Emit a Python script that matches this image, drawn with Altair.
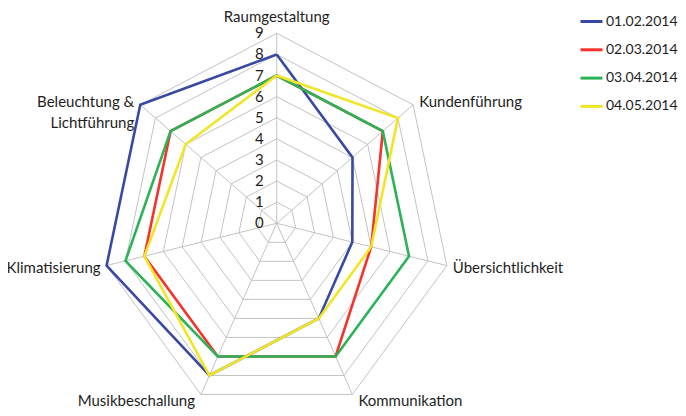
import math
import altair as alt
import pandas as pd

# ---- data ----
categories = ["Raumgestaltung", "Kundenführung", "Übersichtlichkeit", "Kommunikation",
              "Musikbeschallung", "Klimatisierung", "Beleuchtung & Lichtführung"]
series_names = ["01.02.2014", "02.03.2014", "03.04.2014", "04.05.2014"]
s_0102 = [8, 5, 4, 5, 8, 9, 9]
s_0203 = [7, 7, 5, 7, 7, 7, 7]
s_0304 = [7, 7, 7, 7, 7, 8, 7]
s_0405 = [7, 8, 5, 5, 8, 7, 6]
tick_levels = [0, 1, 2, 3, 4, 5, 6, 7, 8, 9]
colors = ["#3949A3", "#F8312B", "#2CB257", "#F1E527"]

N = len(categories)
RMAX = 9
FONT = "Lato"
FS = 15
TXT = "#1E1E1E"

# ---- tables ----
rows = []
for name, vals in zip(series_names, [s_0102, s_0203, s_0304, s_0405]):
    for i in range(N + 1):
        rows.append({"series": name, "idx": i, "value": vals[i % N]})
series_df = pd.DataFrame(rows)

grid_rows = []
for lv in tick_levels[1:]:
    for i in range(N + 1):
        grid_rows.append({"level": lv, "idx": i})
grid_df = pd.DataFrame(grid_rows)

cat_df = pd.DataFrame({"idx": list(range(N)), "cat": categories,
                       "label": [c.replace("& ", "&\n") for c in categories]})
tick_df = pd.DataFrame({"level": tick_levels, "label": [str(t) for t in tick_levels]})

# ---- scales: center at plot (268.7, 215.3) ----
CX, CY = 268.7, 215.3
RX, RY = 174.5, 190.0
xs = alt.Scale(domain=[-RMAX, RMAX], range=[CX - RX, CX + RX])
ys = alt.Scale(domain=[-RMAX, RMAX], range=[CY + RY, CY - RY])
ANG = f"2*PI/{N}"

def X(field="x"):
    return alt.X(f"{field}:Q", scale=xs, axis=None)

def Y(field="y"):
    return alt.Y(f"{field}:Q", scale=ys, axis=None)

grid_color = "#C3C3C3"

rings = alt.Chart(grid_df).transform_calculate(
    x=f"datum.level*sin(datum.idx*{ANG})", y=f"datum.level*cos(datum.idx*{ANG})"
).mark_line(color=grid_color, strokeWidth=1).encode(
    x=X(), y=Y(), detail="level:N", order="idx:Q")

spokes = alt.Chart(cat_df).transform_calculate(
    x0="0", y0="0",
    x=f"{RMAX}*sin(datum.idx*{ANG})", y=f"{RMAX}*cos(datum.idx*{ANG})"
).mark_rule(color=grid_color, strokeWidth=1).encode(
    x=X("x0"), y=Y("y0"), x2="x:Q", y2="y:Q")

ticks = alt.Chart(tick_df).transform_calculate(x0="0").mark_text(
    align="right", baseline="middle", dx=-13, font=FONT, fontSize=FS, color=TXT
).encode(x=X("x0"), y=Y("level"), text="label:N")

lines = alt.Chart(series_df).transform_calculate(
    x=f"datum.value*sin(datum.idx*{ANG})", y=f"datum.value*cos(datum.idx*{ANG})"
).mark_line(strokeWidth=2.6, strokeJoin="miter").encode(
    x=X(), y=Y(), order="idx:Q",
    color=alt.Color("series:N", sort=series_names,
                    scale=alt.Scale(domain=series_names, range=colors),
                    legend=alt.Legend(orient="none", legendX=571, legendY=1, title=None,
                                      symbolType="stroke", symbolStrokeWidth=3,
                                      symbolSize=484, labelFontSize=14, labelFont=FONT,
                                      labelColor=TXT, labelOffset=2, rowPadding=8.3,
                                      labelLimit=0, padding=0)))

label_layers = []
for i in range(N):
    a = 2 * math.pi * i / N
    s, c = math.sin(a), math.cos(a)
    if abs(s) < 1e-6:
        align, dx = "center", 0
    elif s > 0:
        align, dx = "left", 6
    else:
        align, dx = "right", -6
    if c > 0.9:
        dy = -16
    elif c > 0.3:
        dy = -3
    elif c > -0.5:
        dy = 2.5
    else:
        dy = 7
    label_layers.append(
        alt.Chart(cat_df).transform_filter(f"datum.idx == {i}").transform_calculate(
            x=f"{RMAX}*sin(datum.idx*{ANG})", y=f"{RMAX}*cos(datum.idx*{ANG})"
        ).mark_text(align=align, baseline="middle", dx=dx, dy=dy, font=FONT, fontSize=FS,
                    color=TXT, lineBreak="\n", lineHeight=21).encode(
            x=X(), y=Y(), text="label:N"))

chart = alt.layer(rings, spokes, ticks, lines, *label_layers).properties(
    width=670, height=406, padding=0,
    autosize=alt.AutoSizeParams(type="none")
).configure_view(stroke=None)

chart.save("out.html", embed_options={"renderer": "svg", "actions": False})
